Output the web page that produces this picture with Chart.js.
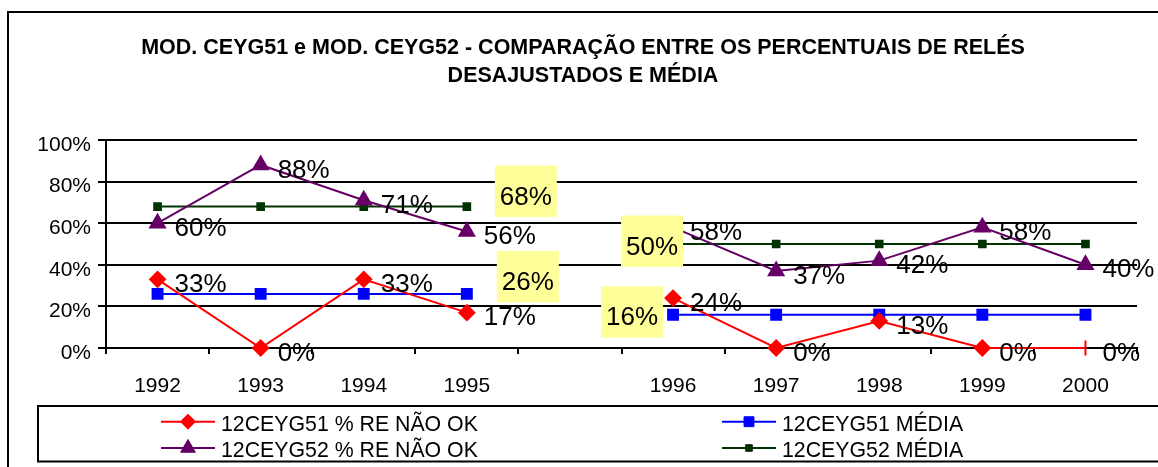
<!DOCTYPE html>
<html>
<head>
<meta charset="utf-8">
<script src="https://cdn.jsdelivr.net/npm/chart.js@4.4.1/dist/chart.umd.min.js"></script>
<style>
  html, body { margin: 0; padding: 0; background: #fff; }
  canvas { display: block; }
</style>
</head>
<body>
<canvas id="releChart" width="1158" height="467"></canvas>
<script>
// Data (blank category splits the two periods)
const years = ['1992', '1993', '1994', '1995', '', '1996', '1997', '1998', '1999', '2000'];
const ceyg51NaoOk = [33, 0, 33, 17, null, 24, 0, 13, 0, 0];
const ceyg51Media = [26, 26, 26, 26, null, 16, 16, 16, 16, 16];
const ceyg52NaoOk = [60, 88, 71, 56, null, 58, 37, 42, 58, 40];
const ceyg52Media = [68, 68, 68, 68, null, 50, 50, 50, 50, 50];
const yTicks = [0, 20, 40, 60, 80, 100];
const titleLines = ['MOD. CEYG51 e MOD. CEYG52 - COMPARAÇÃO ENTRE OS PERCENTUAIS DE RELÉS', 'DESAJUSTADOS E MÉDIA'];

const FONT = "'Liberation Sans', Arial, sans-serif";

// series with plain labels next to each point
const labelledSets = [0, 2];
// yellow boxed labels of the averages: dataset, point, offset of text centre from point
const boxLabels = [
    { ds: 3, i: 3, dx: 59, dy: -9 },
    { ds: 1, i: 3, dx: 61, dy: -11 },
    { ds: 3, i: 5, dx: -21, dy: 3.5 },
    { ds: 1, i: 5, dx: -41, dy: 3.5 }
];

const redStyles = ceyg51NaoOk.map((v, i) => i === ceyg51NaoOk.length - 1 ? 'line' : 'rectRot');
const redRot = ceyg51NaoOk.map((v, i) => i === ceyg51NaoOk.length - 1 ? 90 : 0);

function drawMarker(ctx, ds, x, y) {
    const style = Array.isArray(ds.pointStyle) ? ds.pointStyle[0] : ds.pointStyle;
    ctx.save();
    ctx.fillStyle = ds.pointBackgroundColor;
    ctx.strokeStyle = ds.pointBorderColor;
    ctx.lineWidth = 1;
    Chart.helpers.drawPoint(ctx, { pointStyle: style, radius: ds.pointRadius, rotation: 0, borderWidth: 1 }, x, y);
    ctx.restore();
}

const decorPlugin = {
    id: 'decor',
    beforeDraw(chart) {
        const ctx = chart.ctx;
        ctx.save();
        ctx.fillStyle = '#fff';
        ctx.fillRect(0, 0, chart.width, chart.height);
        // outer frame (runs off the right and bottom edge)
        ctx.strokeStyle = '#000';
        ctx.lineWidth = 2;
        ctx.strokeRect(8, 12, 1200, 500);
        // title
        ctx.fillStyle = '#000';
        ctx.font = 'bold 21.5px ' + FONT;
        ctx.textAlign = 'center';
        ctx.textBaseline = 'alphabetic';
        titleLines.forEach((t, k) => ctx.fillText(t, 583, 53.5 + k * 28));
        ctx.restore();
    },
    afterDatasetsDraw(chart) {
        const ctx = chart.ctx;
        ctx.save();
        ctx.font = '26px ' + FONT;
        ctx.fillStyle = '#000';
        ctx.textBaseline = 'middle';
        ctx.textAlign = 'left';
        labelledSets.forEach(d => {
            const meta = chart.getDatasetMeta(d);
            chart.data.datasets[d].data.forEach((v, i) => {
                if (v === null) return;
                const p = meta.data[i];
                ctx.fillText(v + '%', p.x + 17, p.y + 5.5);
            });
        });
        ctx.textAlign = 'center';
        boxLabels.forEach(b => {
            const p = chart.getDatasetMeta(b.ds).data[b.i];
            const v = chart.data.datasets[b.ds].data[b.i];
            const cx = p.x + b.dx, cy = p.y + b.dy;
            ctx.fillStyle = '#ffff99';
            ctx.fillRect(cx - 31, cy - 32, 62, 51.5);
            ctx.fillStyle = '#000';
            ctx.fillText(v + '%', cx, cy);
        });
        ctx.restore();
    },
    afterDraw(chart) {
        const ctx = chart.ctx;
        const sets = chart.data.datasets;
        ctx.save();
        ctx.strokeStyle = '#000';
        ctx.lineWidth = 2;
        ctx.strokeRect(38, 406, 1200, 55.5);
        ctx.font = '21.3px ' + FONT;
        ctx.fillStyle = '#000';
        ctx.textBaseline = 'middle';
        ctx.textAlign = 'left';
        const cols = [161, 722];
        const rows = [421.7, 448];
        sets.forEach((ds, k) => {
            const x0 = cols[k % 2], y = rows[Math.floor(k / 2)];
            ctx.strokeStyle = ds.borderColor;
            ctx.lineWidth = 2;
            ctx.beginPath();
            ctx.moveTo(x0, y);
            ctx.lineTo(x0 + 54, y);
            ctx.stroke();
            drawMarker(ctx, ds, x0 + 27, y);
            ctx.fillStyle = '#000';
            ctx.fillText(ds.label, x0 + 60, y + 3.5);
        });
        ctx.restore();
    }
};

const ctx = document.getElementById('releChart').getContext('2d');
new Chart(ctx, {
    type: 'line',
    data: {
        labels: years,
        datasets: [
            {
                label: '12CEYG51 % RE NÃO OK',
                data: ceyg51NaoOk,
                borderColor: '#ff0000',
                pointBackgroundColor: '#ff0000',
                pointBorderColor: '#ff0000',
                pointStyle: redStyles,
                pointRotation: redRot,
                pointRadius: 7.5,
                borderWidth: 2,
                clip: false
            },
            {
                label: '12CEYG51 MÉDIA',
                data: ceyg51Media,
                borderColor: '#0000ff',
                pointBackgroundColor: '#0000ff',
                pointBorderColor: '#0000ff',
                pointStyle: 'rect',
                pointRadius: 7,
                borderWidth: 2,
                clip: false
            },
            {
                label: '12CEYG52 % RE NÃO OK',
                data: ceyg52NaoOk,
                borderColor: '#660066',
                pointBackgroundColor: '#660066',
                pointBorderColor: '#660066',
                pointStyle: 'triangle',
                pointRadius: 8.5,
                borderWidth: 2,
                clip: false
            },
            {
                label: '12CEYG52 MÉDIA',
                data: ceyg52Media,
                borderColor: '#003300',
                pointBackgroundColor: '#003300',
                pointBorderColor: '#003300',
                pointStyle: 'rect',
                pointRadius: 4.7,
                borderWidth: 2,
                clip: false
            }
        ]
    },
    options: {
        responsive: false,
        animation: false,
        spanGaps: false,
        layout: { padding: { left: 0, top: 140, right: 21, bottom: 69 } },
        plugins: {
            legend: { display: false },
            title: { display: false },
            tooltip: { enabled: false }
        },
        scales: {
            x: {
                offset: true,
                afterFit: s => { s.height = 50; },
                grid: { drawOnChartArea: false, drawTicks: true, tickLength: 6, color: '#000', lineWidth: 2, offset: true },
                border: { color: '#000', width: 2 },
                ticks: { color: '#000', padding: 20, maxRotation: 0, autoSkip: false, font: { family: FONT, size: 21 } }
            },
            y: {
                min: 0,
                max: 100,
                afterFit: s => { s.width = 106; },
                afterBuildTicks: s => { s.ticks = yTicks.map(v => ({ value: v })); },
                grid: { color: '#000', lineWidth: 2, tickLength: 8 },
                border: { color: '#000', width: 2 },
                ticks: {
                    color: '#000',
                    padding: 7,
                    labelOffset: 5,
                    font: { family: FONT, size: 21 },
                    callback: v => v + '%'
                }
            }
        }
    },
    plugins: [decorPlugin]
});
</script>
</body>
</html>
